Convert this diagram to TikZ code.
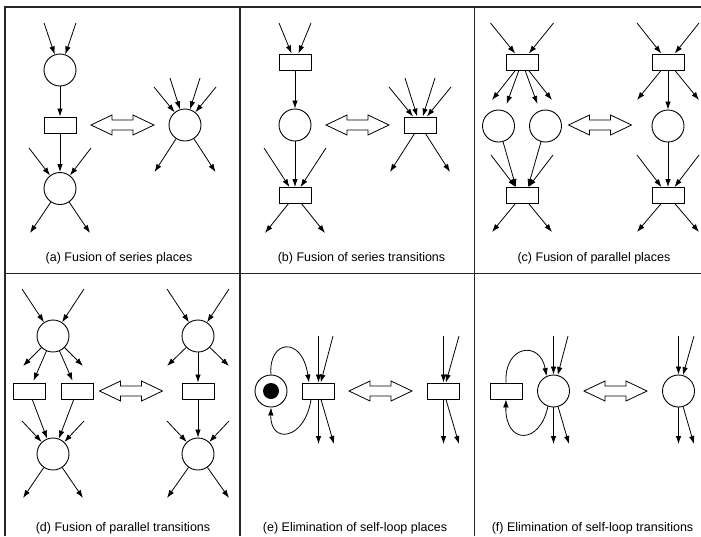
\documentclass[tikz,border=0pt]{standalone}
\usepackage{fontspec}
\setmainfont{Liberation Sans}
\usetikzlibrary{arrows.meta}

\tikzset{
  place/.style={circle, draw, line width=0.9pt, minimum size=32pt, inner sep=0pt},
  trans/.style={rectangle, draw, line width=0.9pt, minimum width=32pt, minimum height=16pt, inner sep=0pt},
  token/.style={circle, fill=black, minimum size=16pt, inner sep=0pt},
  arc/.style={-{Latex[length=8pt,width=5.5pt]}, line width=0.8pt},
  frame/.style={line width=1.2pt, draw=black!85},
  caption/.style={font=\fontsize{12.5}{15}\selectfont, anchor=base},
  pics/swaparrow/.style={code={
    \draw[line width=0.8pt, fill=white]
      (-31.5,0) -- (-10.5,-10) -- (-10.5,-5) -- (10.5,-5) -- (10.5,-10) -- (31.5,0)
      -- (10.5,10) -- (10.5,5) -- (-10.5,5) -- (-10.5,10) -- cycle;}}
}

\begin{document}
\begin{tikzpicture}[x=1pt, y=-1pt]
\useasboundingbox (0,0) rectangle (701,536);

% panel frame
\draw[frame] (5,536) -- (5,7) -- (701,7);
\draw[frame] (240,7) -- (240,536);
\draw[frame] (474.5,7) -- (474.5,536);
\draw[frame] (5,273.5) -- (701,273.5);

% ---------- (a) fusion of series places ----------
\node[place] (a1) at (60,70) {};
\node[trans] (a2) at (60,125) {};
\node[place] (a3) at (60,188.5) {};
\coordinate (a1i1) at (44,23);  \coordinate (a1i2) at (76,23);
\coordinate (a3i1) at (29,148); \coordinate (a3i2) at (91,148);
\coordinate (a3o1) at (30,233); \coordinate (a3o2) at (90,233);
\draw[arc] (a1i1) -- (a1);
\draw[arc] (a1i2) -- (a1);
\draw[arc] (a1) -- (a2);
\draw[arc] (a2) -- (a3);
\draw[arc] (a3i1) -- (a3);
\draw[arc] (a3i2) -- (a3);
\draw[arc] (a3) -- (a3o1);
\draw[arc] (a3) -- (a3o2);
\pic at (122.5,125) {swaparrow};
\node[place] (a4) at (185,125) {};
\coordinate (a4i1) at (154,87);  \coordinate (a4i2) at (170,78);
\coordinate (a4i3) at (200,78);  \coordinate (a4i4) at (216,87);
\coordinate (a4o1) at (154.5,172); \coordinate (a4o2) at (215.5,172);
\foreach \s in {a4i1,a4i2,a4i3,a4i4} \draw[arc] (\s) -- (a4);
\draw[arc] (a4) -- (a4o1);
\draw[arc] (a4) -- (a4o2);
\node[caption] (acap) at (119,261) {(a) Fusion of series places};

% ---------- (b) fusion of series transitions ----------
\node[trans] (b1) at (295,62) {};
\node[place] (b2) at (295,125) {};
\node[trans] (b3) at (295,195.5) {};
\coordinate (b1i1) at (279,23);  \coordinate (b1i2) at (311,23);
\coordinate (b3i1) at (264,148); \coordinate (b3i2) at (326,148);
\coordinate (b3o1) at (265,233); \coordinate (b3o2) at (325,233);
\draw[arc] (b1i1) -- (b1);
\draw[arc] (b1i2) -- (b1);
\draw[arc] (b1) -- (b2);
\draw[arc] (b2) -- (b3);
\draw[arc] (b3i1) -- (b3);
\draw[arc] (b3i2) -- (b3);
\draw[arc] (b3) -- (b3o1);
\draw[arc] (b3) -- (b3o2);
\pic at (357.5,125) {swaparrow};
\node[trans] (b4) at (420,125) {};
\coordinate (b4i1) at (389,87);  \coordinate (b4i2) at (405,78);
\coordinate (b4i3) at (435,78);  \coordinate (b4i4) at (451,87);
\coordinate (b4o1) at (390,172); \coordinate (b4o2) at (450,172);
\foreach \s in {b4i1,b4i2,b4i3,b4i4} \draw[arc] (\s) -- (b4);
\draw[arc] (b4) -- (b4o1);
\draw[arc] (b4) -- (b4o2);
\node[caption] (bcap) at (361.5,261) {(b) Fusion of series transitions};

% ---------- (c) fusion of parallel places ----------
\node[trans] (c1) at (522,62) {};
\node[place] (c2) at (498.5,126) {};
\node[place] (c3) at (545.5,126) {};
\node[trans] (c4) at (522,195.5) {};
\coordinate (c1i1) at (490.5,23); \coordinate (c1i2) at (553.5,23);
\coordinate (c1o1) at (492,100);  \coordinate (c1o2) at (552,100);
\coordinate (c4i1) at (491,155);  \coordinate (c4i2) at (553,155);
\coordinate (c4o1) at (492,232);  \coordinate (c4o2) at (552,232);
\draw[arc] (c1i1) -- (c1);
\draw[arc] (c1i2) -- (c1);
\draw[arc] (c1) -- (c1o1);
\draw[arc] (c1) -- (c1o2);
\draw[arc, shorten >=7pt] (c1) -- (c2);
\draw[arc, shorten >=7pt] (c1) -- (c3);
\draw[arc] (c2) -- ([xshift=-6pt]c4.north);
\draw[arc] (c3) -- ([xshift=6pt]c4.north);
\draw[arc] (c4i1) -- (c4);
\draw[arc] (c4i2) -- (c4);
\draw[arc] (c4) -- (c4o1);
\draw[arc] (c4) -- (c4o2);
\pic at (600,125) {swaparrow};
\node[trans] (c5) at (668,62) {};
\node[place] (c6) at (668,126) {};
\node[trans] (c7) at (668,195.5) {};
\coordinate (c5i1) at (637,23);  \coordinate (c5i2) at (699,23);
\coordinate (c5o1) at (637,100); \coordinate (c5o2) at (699,100);
\coordinate (c7i1) at (637,155); \coordinate (c7i2) at (699,155);
\coordinate (c7o1) at (637,232); \coordinate (c7o2) at (699,232);
\draw[arc] (c5i1) -- (c5);
\draw[arc] (c5i2) -- (c5);
\draw[arc] (c5) -- (c5o1);
\draw[arc] (c5) -- (c5o2);
\draw[arc] (c5) -- (c6);
\draw[arc] (c6) -- (c7);
\draw[arc] (c7i1) -- (c7);
\draw[arc] (c7i2) -- (c7);
\draw[arc] (c7) -- (c7o1);
\draw[arc] (c7) -- (c7o2);
\node[caption] (ccap) at (594,261) {(c) Fusion of parallel places};

% ---------- (d) fusion of parallel transitions ----------
\node[place] (d1) at (53,336) {};
\node[trans] (d2) at (29,391) {};
\node[trans] (d3) at (77,391) {};
\node[place] (d4) at (53,454) {};
\coordinate (d1i1) at (22,289);  \coordinate (d1i2) at (84,289);
\coordinate (d1o1) at (23,366);  \coordinate (d1o2) at (83,366);
\coordinate (d4i1) at (22,421);  \coordinate (d4i2) at (84,421);
\coordinate (d4o1) at (23,498);  \coordinate (d4o2) at (83,498);
\draw[arc] (d1i1) -- (d1);
\draw[arc] (d1i2) -- (d1);
\draw[arc] (d1) -- (d1o1);
\draw[arc] (d1) -- (d1o2);
\draw[arc, shorten >=2pt] (d1) -- (d2);
\draw[arc, shorten >=2pt] (d1) -- (d3);
\draw[arc] (d2) -- (d4);
\draw[arc] (d3) -- (d4);
\draw[arc] (d4i1) -- (d4);
\draw[arc] (d4i2) -- (d4);
\draw[arc] (d4) -- (d4o1);
\draw[arc] (d4) -- (d4o2);
\pic at (131,391) {swaparrow};
\node[place] (d5) at (198,336) {};
\node[trans] (d6) at (198,391) {};
\node[place] (d7) at (198,454) {};
\coordinate (d5i1) at (167,289); \coordinate (d5i2) at (229,289);
\coordinate (d5o1) at (167,366); \coordinate (d5o2) at (229,366);
\coordinate (d7i1) at (167,421); \coordinate (d7i2) at (229,421);
\coordinate (d7o1) at (167,498); \coordinate (d7o2) at (229,498);
\draw[arc] (d5i1) -- (d5);
\draw[arc] (d5i2) -- (d5);
\draw[arc] (d5) -- (d5o1);
\draw[arc] (d5) -- (d5o2);
\draw[arc] (d5) -- (d6);
\draw[arc] (d6) -- (d7);
\draw[arc] (d7i1) -- (d7);
\draw[arc] (d7i2) -- (d7);
\draw[arc] (d7) -- (d7o1);
\draw[arc] (d7) -- (d7o2);
\node[caption] (dcap) at (123,531) {(d) Fusion of parallel transitions};

% ---------- (e) elimination of self-loop places ----------
\node[place] (e1) at (271,391) {};
\node[token] (e1t) at (271,391) {};
\node[trans] (e2) at (318.5,391) {};
\coordinate (e2i1) at (318.5,336); \coordinate (e2i2) at (333,336);
\coordinate (e2o1) at (318.5,444); \coordinate (e2o2) at (334,444);
\draw[arc] (e2i1) -- (e2);
\draw[arc] (e2i2) -- (e2);
\draw[arc] (e2) -- (e2o1);
\draw[arc] (e2) -- (e2o2);
\draw[arc] (e1.north) .. controls (268,340) and (302,335) .. ([xshift=-9.5pt]e2.north);
\draw[arc] ([xshift=-7.5pt]e2.south) .. controls (305,440) and (270,445) .. (e1.south);
\pic at (380.5,391) {swaparrow};
\node[trans] (e3) at (443.5,391) {};
\coordinate (e3i1) at (443.5,336); \coordinate (e3i2) at (459,336);
\coordinate (e3o1) at (443.5,444); \coordinate (e3o2) at (459,444);
\draw[arc] (e3i1) -- (e3);
\draw[arc] (e3i2) -- (e3);
\draw[arc] (e3) -- (e3o1);
\draw[arc] (e3) -- (e3o2);
\node[caption] (ecap) at (355,531) {(e) Elimination of self-loop places};

% ---------- (f) elimination of self-loop transitions ----------
\node[trans] (f1) at (506,391) {};
\node[place] (f2) at (553.5,391) {};
\coordinate (f2i1) at (553.5,336); \coordinate (f2i2) at (568,336);
\coordinate (f2o1) at (553.5,444); \coordinate (f2o2) at (569,444);
\draw[arc] (f2i1) -- (f2);
\draw[arc] (f2i2) -- (f2);
\draw[arc] (f2) -- (f2o1);
\draw[arc] (f2) -- (f2o2);
\draw[arc] (f1.north) .. controls (504,345) and (540,340) .. (f2.115);
\draw[arc] (f2.250) .. controls (540,445) and (505,445) .. (f1.south);
\pic at (615.5,391) {swaparrow};
\node[place] (f3) at (678.5,391) {};
\coordinate (f3i1) at (678.5,336); \coordinate (f3i2) at (694,336);
\coordinate (f3o1) at (678.5,444); \coordinate (f3o2) at (694,444);
\draw[arc] (f3i1) -- (f3);
\draw[arc] (f3i2) -- (f3);
\draw[arc] (f3) -- (f3o1);
\draw[arc] (f3) -- (f3o2);
\node[caption] (fcap) at (592.5,531) {(f) Elimination of self-loop transitions};
\end{tikzpicture}
\end{document}
